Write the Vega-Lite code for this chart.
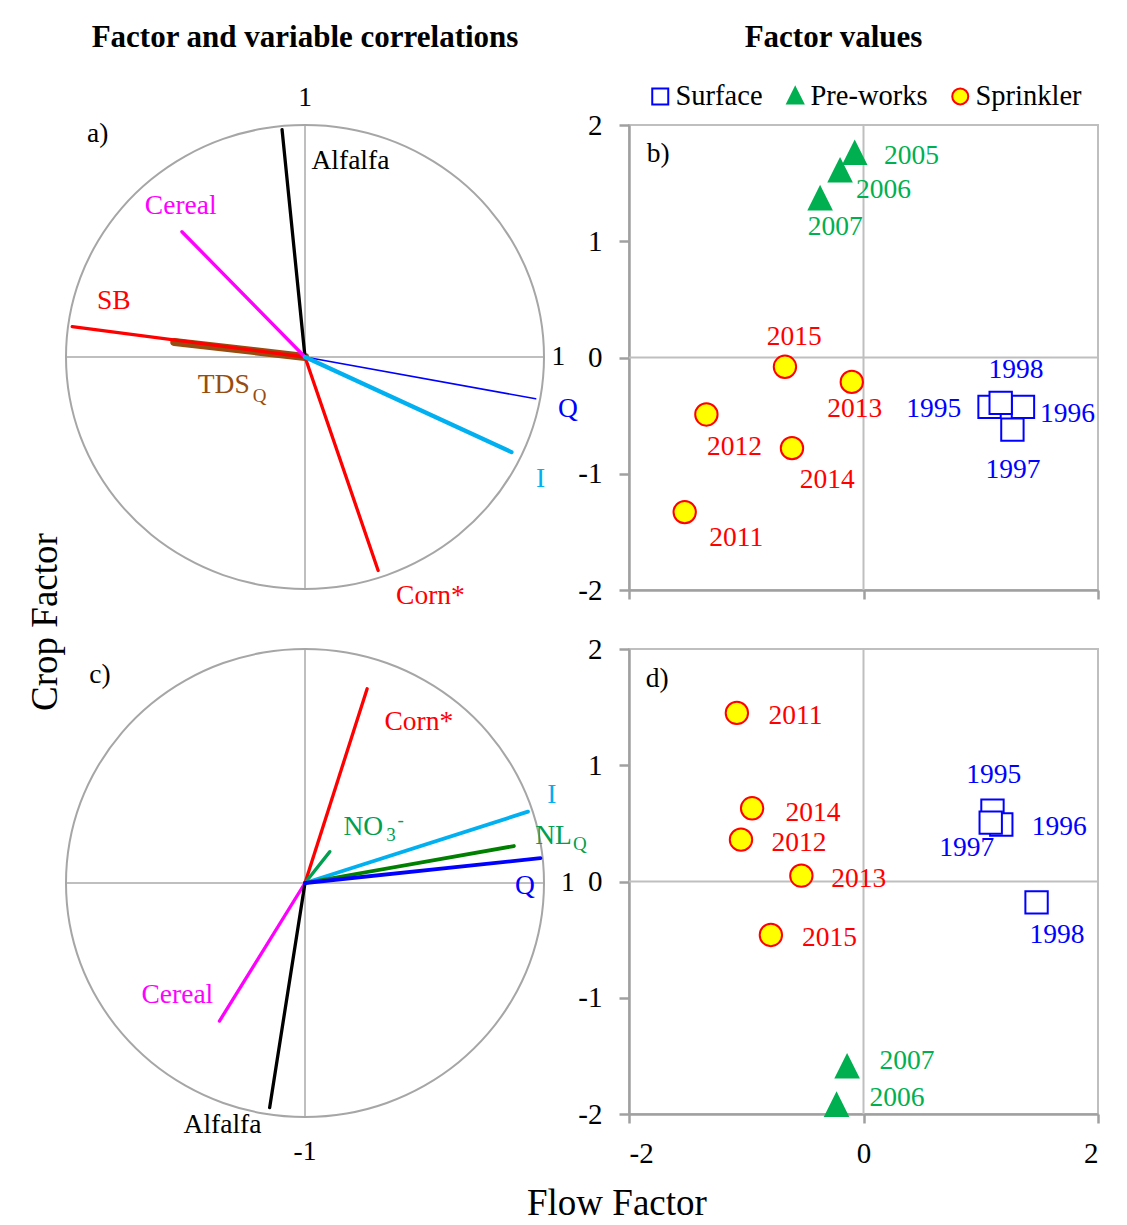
{
  "$schema": "https://vega.github.io/schema/vega-lite/v6.json",
  "background": "white",
  "padding": {"left": 26, "top": 21, "right": 10, "bottom": 0},
  "config": {
    "font": "Liberation Serif",
    "title": {"font": "Liberation Serif", "color": "black"},
    "axis": {"labelFont": "Liberation Serif", "labelFontSize": 29, "labelColor": "black", "domainColor": "#a0a0a0", "domainWidth": 2.5, "tickColor": "#a0a0a0", "tickWidth": 2.5, "grid": false, "title": null},
    "legend": {"labelFont": "Liberation Serif", "labelColor": "black"}
  },
  "title": {"text": "Crop Factor", "orient": "left", "anchor": "middle", "fontSize": 37, "fontWeight": "normal", "offset": -3},
  "datasets": {
    "circle": [
      {"i": 0, "x": 1.0, "y": 0.0}, {"i": 1, "x": 0.985, "y": 0.174}, {"i": 2, "x": 0.94, "y": 0.342}, {"i": 3, "x": 0.866, "y": 0.5},
      {"i": 4, "x": 0.766, "y": 0.643}, {"i": 5, "x": 0.643, "y": 0.766}, {"i": 6, "x": 0.5, "y": 0.866}, {"i": 7, "x": 0.342, "y": 0.94},
      {"i": 8, "x": 0.174, "y": 0.985}, {"i": 9, "x": 0.0, "y": 1.0}, {"i": 10, "x": -0.174, "y": 0.985}, {"i": 11, "x": -0.342, "y": 0.94},
      {"i": 12, "x": -0.5, "y": 0.866}, {"i": 13, "x": -0.643, "y": 0.766}, {"i": 14, "x": -0.766, "y": 0.643}, {"i": 15, "x": -0.866, "y": 0.5},
      {"i": 16, "x": -0.94, "y": 0.342}, {"i": 17, "x": -0.985, "y": 0.174}, {"i": 18, "x": -1.0, "y": 0.0}, {"i": 19, "x": -0.985, "y": -0.174},
      {"i": 20, "x": -0.94, "y": -0.342}, {"i": 21, "x": -0.866, "y": -0.5}, {"i": 22, "x": -0.766, "y": -0.643}, {"i": 23, "x": -0.643, "y": -0.766},
      {"i": 24, "x": -0.5, "y": -0.866}, {"i": 25, "x": -0.342, "y": -0.94}, {"i": 26, "x": -0.174, "y": -0.985}, {"i": 27, "x": 0.0, "y": -1.0},
      {"i": 28, "x": 0.174, "y": -0.985}, {"i": 29, "x": 0.342, "y": -0.94}, {"i": 30, "x": 0.5, "y": -0.866}, {"i": 31, "x": 0.643, "y": -0.766},
      {"i": 32, "x": 0.766, "y": -0.643}, {"i": 33, "x": 0.866, "y": -0.5}, {"i": 34, "x": 0.94, "y": -0.342}, {"i": 35, "x": 0.985, "y": -0.174}
    ],
    "cross": [{"x": -1, "y": 0, "x2": 1, "y2": 0}, {"x": 0, "y": -1, "x2": 0, "y2": 1}],
    "zero": [{"x": 0, "y": -2, "x2": 0, "y2": 2}, {"x": -2, "y": 0, "x2": 2, "y2": 0}],
    "vecA": [
      {"var": "TDSQ", "x": -0.547, "y": 0.065},
      {"var": "SB", "x": -0.974, "y": 0.131},
      {"var": "Alfalfa", "x": -0.096, "y": 0.98},
      {"var": "Cereal", "x": -0.515, "y": 0.54},
      {"var": "Q", "x": 0.965, "y": -0.18},
      {"var": "I", "x": 0.864, "y": -0.41},
      {"var": "Corn", "x": 0.306, "y": -0.92}
    ],
    "labA": [
      {"t": "Alfalfa", "var": "Alfalfa", "k": "main", "x": 0.19, "y": 0.846},
      {"t": "Cereal", "var": "Cereal", "k": "main", "x": -0.52, "y": 0.65},
      {"t": "SB", "var": "SB", "k": "main", "x": -0.8, "y": 0.24},
      {"t": "TDS", "var": "TDSQ", "k": "main", "x": -0.34, "y": -0.122},
      {"t": "Q", "var": "TDSQ", "k": "sub", "x": -0.19, "y": -0.168},
      {"t": "Q", "var": "Q", "k": "main", "x": 1.1, "y": -0.226},
      {"t": "I", "var": "I", "k": "main", "x": 0.986, "y": -0.528},
      {"t": "Corn*", "var": "Corn", "k": "main", "x": 0.525, "y": -1.03},
      {"t": "a)", "var": "axis", "k": "main", "x": -0.867, "y": 0.96},
      {"t": "1", "var": "axis", "k": "main", "x": 0, "y": 1.117},
      {"t": "1", "var": "axis", "k": "main", "x": 1.06, "y": 0}
    ],
    "vecC": [
      {"var": "Corn", "x": 0.26, "y": 0.83},
      {"var": "NO3", "x": 0.104, "y": 0.134},
      {"var": "I", "x": 0.933, "y": 0.305},
      {"var": "NLQ", "x": 0.874, "y": 0.158},
      {"var": "Q", "x": 0.985, "y": 0.106},
      {"var": "Cereal", "x": -0.358, "y": -0.59},
      {"var": "Alfalfa", "x": -0.148, "y": -0.96}
    ],
    "labC": [
      {"t": "c)", "var": "axis", "k": "main", "x": -0.858, "y": 0.888},
      {"t": "Corn*", "var": "Corn", "k": "main", "x": 0.476, "y": 0.69},
      {"t": "NO", "var": "NO3", "k": "main", "x": 0.244, "y": 0.24},
      {"t": "3", "var": "NO3", "k": "sub", "x": 0.36, "y": 0.205},
      {"t": "-", "var": "NO3", "k": "sup", "x": 0.4, "y": 0.27},
      {"t": "I", "var": "I", "k": "main", "x": 1.033, "y": 0.377},
      {"t": "NL", "var": "NLQlab", "k": "main", "x": 1.04, "y": 0.2},
      {"t": "Q", "var": "NLQlab", "k": "sub", "x": 1.15, "y": 0.165},
      {"t": "Q", "var": "Q", "k": "main", "x": 0.92, "y": -0.012},
      {"t": "Cereal", "var": "Cereal", "k": "main", "x": -0.534, "y": -0.478},
      {"t": "Alfalfa", "var": "Alfalfa", "k": "main", "x": -0.345, "y": -1.035},
      {"t": "-1", "var": "axis", "k": "main", "x": 0, "y": -1.15},
      {"t": "1", "var": "axis", "k": "main", "x": 1.1, "y": 0}
    ],
    "ptsB": [
      {"year": "1995", "group": "Surface", "x": 1.075, "y": -0.425},
      {"year": "1996", "group": "Surface", "x": 1.36, "y": -0.425},
      {"year": "1997", "group": "Surface", "x": 1.27, "y": -0.62},
      {"year": "1998", "group": "Surface", "x": 1.17, "y": -0.39},
      {"year": "2005", "group": "Pre-works", "x": -0.075, "y": 1.75},
      {"year": "2006", "group": "Pre-works", "x": -0.2, "y": 1.6},
      {"year": "2007", "group": "Pre-works", "x": -0.37, "y": 1.36},
      {"year": "2011", "group": "Sprinkler", "x": -1.525, "y": -1.33},
      {"year": "2012", "group": "Sprinkler", "x": -1.34, "y": -0.49},
      {"year": "2013", "group": "Sprinkler", "x": -0.1, "y": -0.21},
      {"year": "2014", "group": "Sprinkler", "x": -0.61, "y": -0.78},
      {"year": "2015", "group": "Sprinkler", "x": -0.67, "y": -0.08}
    ],
    "labB": [
      {"t": "1995", "group": "Surface", "x": 0.6, "y": -0.44},
      {"t": "1996", "group": "Surface", "x": 1.74, "y": -0.49},
      {"t": "1997", "group": "Surface", "x": 1.275, "y": -0.97},
      {"t": "1998", "group": "Surface", "x": 1.3, "y": -0.11},
      {"t": "2005", "group": "Pre-works", "x": 0.41, "y": 1.735},
      {"t": "2006", "group": "Pre-works", "x": 0.17, "y": 1.44},
      {"t": "2007", "group": "Pre-works", "x": -0.24, "y": 1.12},
      {"t": "2011", "group": "Sprinkler", "x": -1.085, "y": -1.55},
      {"t": "2012", "group": "Sprinkler", "x": -1.1, "y": -0.77},
      {"t": "2013", "group": "Sprinkler", "x": -0.075, "y": -0.44},
      {"t": "2014", "group": "Sprinkler", "x": -0.31, "y": -1.05},
      {"t": "2015", "group": "Sprinkler", "x": -0.59, "y": 0.175},
      {"t": "b)", "group": "label", "x": -1.75, "y": 1.75}
    ],
    "ptsD": [
      {"year": "1995", "group": "Surface", "x": 1.1, "y": 0.61},
      {"year": "1996", "group": "Surface", "x": 1.175, "y": 0.49},
      {"year": "1997", "group": "Surface", "x": 1.085, "y": 0.507},
      {"year": "1998", "group": "Surface", "x": 1.476, "y": -0.18},
      {"year": "2006", "group": "Pre-works", "x": -0.23, "y": -1.93},
      {"year": "2007", "group": "Pre-works", "x": -0.14, "y": -1.6},
      {"year": "2011", "group": "Sprinkler", "x": -1.08, "y": 1.45},
      {"year": "2012", "group": "Sprinkler", "x": -1.045, "y": 0.36},
      {"year": "2013", "group": "Sprinkler", "x": -0.53, "y": 0.05},
      {"year": "2014", "group": "Sprinkler", "x": -0.95, "y": 0.63},
      {"year": "2015", "group": "Sprinkler", "x": -0.79, "y": -0.46}
    ],
    "labD": [
      {"t": "1995", "group": "Surface", "x": 1.11, "y": 0.92},
      {"t": "1996", "group": "Surface", "x": 1.67, "y": 0.47},
      {"t": "1997", "group": "Surface", "x": 0.88, "y": 0.285},
      {"t": "1998", "group": "Surface", "x": 1.65, "y": -0.46},
      {"t": "2006", "group": "Pre-works", "x": 0.285, "y": -1.86},
      {"t": "2007", "group": "Pre-works", "x": 0.37, "y": -1.54},
      {"t": "2011", "group": "Sprinkler", "x": -0.58, "y": 1.42},
      {"t": "2012", "group": "Sprinkler", "x": -0.55, "y": 0.33},
      {"t": "2013", "group": "Sprinkler", "x": -0.04, "y": 0.02},
      {"t": "2014", "group": "Sprinkler", "x": -0.43, "y": 0.59},
      {"t": "2015", "group": "Sprinkler", "x": -0.29, "y": -0.49},
      {"t": "d)", "group": "label", "x": -1.76, "y": 1.74}
    ]
  },
  "columns": 2,
  "bounds": "flush",
  "spacing": {"row": 59, "column": 85},
  "resolve": {"scale": {"color": "independent", "shape": "independent", "stroke": "independent", "fill": "independent"}},
  "concat": [
    {
      "width": 478, "height": 464,
      "view": {"stroke": null},
      "title": {"text": "Factor and variable correlations", "fontSize": 31, "fontWeight": "bold", "anchor": "middle", "frame": "group", "offset": 30},
      "encoding": {
        "x": {"field": "x", "type": "quantitative", "scale": {"domain": [-1, 1], "nice": false, "zero": false}, "axis": null},
        "y": {"field": "y", "type": "quantitative", "scale": {"domain": [-1, 1], "nice": false, "zero": false}, "axis": null}
      },
      "layer": [
        {"data": {"name": "cross"}, "mark": {"type": "rule", "color": "#bfbfbf", "strokeWidth": 2}, "encoding": {"x2": {"field": "x2"}, "y2": {"field": "y2"}}},
        {"data": {"name": "circle"}, "mark": {"type": "line", "color": "#a6a6a6", "strokeWidth": 2, "interpolate": "cardinal-closed"}, "encoding": {"order": {"field": "i", "type": "quantitative"}}},
        {"data": {"name": "vecA"}, "transform": [{"filter": "datum.var == 'TDSQ'"}], "mark": {"type": "rule", "strokeCap": "round", "strokeWidth": 8},
         "encoding": {"x2": {"datum": 0}, "y2": {"datum": 0},
           "color": {"field": "var", "type": "nominal", "legend": null, "scale": {"domain": ["Alfalfa", "Cereal", "SB", "TDSQ", "Q", "I", "Corn", "axis"], "range": ["#000000", "#ff00ff", "#ff0000", "#984c0f", "#0000ff", "#00b0f0", "#ff0000", "#000000"]}}}},
        {"data": {"name": "vecA"}, "transform": [{"filter": "indexof(['SB','Alfalfa','Cereal','Corn'], datum.var) >= 0"}], "mark": {"type": "rule", "strokeCap": "round", "strokeWidth": 3.3},
         "encoding": {"x2": {"datum": 0}, "y2": {"datum": 0},
           "color": {"field": "var", "type": "nominal", "legend": null, "scale": {"domain": ["Alfalfa", "Cereal", "SB", "TDSQ", "Q", "I", "Corn", "axis"], "range": ["#000000", "#ff00ff", "#ff0000", "#984c0f", "#0000ff", "#00b0f0", "#ff0000", "#000000"]}}}},
        {"data": {"name": "vecA"}, "transform": [{"filter": "datum.var == 'Q'"}], "mark": {"type": "rule", "strokeCap": "round", "strokeWidth": 1.6},
         "encoding": {"x2": {"datum": 0}, "y2": {"datum": 0},
           "color": {"field": "var", "type": "nominal", "legend": null, "scale": {"domain": ["Alfalfa", "Cereal", "SB", "TDSQ", "Q", "I", "Corn", "axis"], "range": ["#000000", "#ff00ff", "#ff0000", "#984c0f", "#0000ff", "#00b0f0", "#ff0000", "#000000"]}}}},
        {"data": {"name": "vecA"}, "transform": [{"filter": "datum.var == 'I'"}], "mark": {"type": "rule", "strokeCap": "round", "strokeWidth": 4.2},
         "encoding": {"x2": {"datum": 0}, "y2": {"datum": 0},
           "color": {"field": "var", "type": "nominal", "legend": null, "scale": {"domain": ["Alfalfa", "Cereal", "SB", "TDSQ", "Q", "I", "Corn", "axis"], "range": ["#000000", "#ff00ff", "#ff0000", "#984c0f", "#0000ff", "#00b0f0", "#ff0000", "#000000"]}}}},
        {"data": {"name": "labA"}, "transform": [{"filter": "datum.k == 'main'"}], "mark": {"type": "text", "font": "Liberation Serif", "fontSize": 27.5, "align": "center", "baseline": "middle"},
         "encoding": {"text": {"field": "t"}, "color": {"field": "var", "type": "nominal", "legend": null, "scale": {"domain": ["Alfalfa", "Cereal", "SB", "TDSQ", "Q", "I", "Corn", "axis"], "range": ["#000000", "#ff00ff", "#ff0000", "#984c0f", "#0000ff", "#00b0f0", "#ff0000", "#000000"]}}}},
        {"data": {"name": "labA"}, "transform": [{"filter": "datum.k != 'main'"}], "mark": {"type": "text", "font": "Liberation Serif", "fontSize": 19, "align": "center", "baseline": "middle"},
         "encoding": {"text": {"field": "t"}, "color": {"field": "var", "type": "nominal", "legend": null, "scale": {"domain": ["Alfalfa", "Cereal", "SB", "TDSQ", "Q", "I", "Corn", "axis"], "range": ["#000000", "#ff00ff", "#ff0000", "#984c0f", "#0000ff", "#00b0f0", "#ff0000", "#000000"]}}}}
      ]
    },
    {
      "width": 469, "height": 465,
      "view": {"stroke": "#bfbfbf", "strokeWidth": 2},
      "title": {"text": "Factor values", "fontSize": 31, "fontWeight": "bold", "anchor": "middle", "frame": "group", "offset": 28, "dx": -30},
      "encoding": {
        "x": {"field": "x", "type": "quantitative", "scale": {"domain": [-2, 2], "nice": false, "zero": false}, "axis": {"values": [-2, 0, 2], "labels": false, "tickSize": 9}},
        "y": {"field": "y", "type": "quantitative", "scale": {"domain": [-2, 2], "nice": false, "zero": false}, "axis": {"values": [-2, -1, 0, 1, 2], "tickSize": 10, "labelPadding": 17, "labelExpr": "datum.value < 0 ? '-' + (-datum.value) : '' + datum.value"}}
      },
      "layer": [
        {"data": {"name": "zero"}, "mark": {"type": "rule", "color": "#bfbfbf", "strokeWidth": 2}, "encoding": {"x2": {"field": "x2"}, "y2": {"field": "y2"}}},
        {"data": {"name": "ptsB"}, "mark": {"type": "point", "filled": true, "size": 500, "strokeWidth": 2, "opacity": 1},
         "encoding": {
           "shape": {"field": "group", "type": "nominal", "scale": {"domain": ["Surface", "Pre-works", "Sprinkler"], "range": ["square", "M0,-1.1L1,0.9L-1,0.9Z", "circle"]},
             "legend": {"orient": "none", "legendX": 17, "legendY": -43, "direction": "horizontal", "title": null, "labelFontSize": 28.5, "symbolSize": 256, "symbolStrokeWidth": 2, "labelOffset": 1, "columnPadding": 18}},
           "stroke": {"field": "group", "type": "nominal", "scale": {"domain": ["Surface", "Pre-works", "Sprinkler"], "range": ["#0000ff", "#00b050", "#ff0000"]},
             "legend": {"orient": "none", "legendX": 17, "legendY": -43, "direction": "horizontal", "title": null, "labelFontSize": 28.5, "symbolSize": 256, "symbolStrokeWidth": 2, "labelOffset": 1, "columnPadding": 18}},
           "fill": {"field": "group", "type": "nominal", "scale": {"domain": ["Surface", "Pre-works", "Sprinkler"], "range": ["#ffffff", "#00b050", "#ffff00"]},
             "legend": {"orient": "none", "legendX": 17, "legendY": -43, "direction": "horizontal", "title": null, "labelFontSize": 28.5, "symbolSize": 256, "symbolStrokeWidth": 2, "labelOffset": 1, "columnPadding": 18}}
         }},
        {"data": {"name": "labB"}, "mark": {"type": "text", "font": "Liberation Serif", "fontSize": 27.5, "align": "center", "baseline": "middle"},
         "encoding": {"text": {"field": "t"}, "color": {"field": "group", "type": "nominal", "legend": null, "scale": {"domain": ["Surface", "Pre-works", "Sprinkler", "label"], "range": ["#0000ff", "#00b050", "#ff0000", "#000000"]}}}}
      ]
    },
    {
      "width": 478, "height": 468,
      "view": {"stroke": null},
      "encoding": {
        "x": {"field": "x", "type": "quantitative", "scale": {"domain": [-1, 1], "nice": false, "zero": false}, "axis": null},
        "y": {"field": "y", "type": "quantitative", "scale": {"domain": [-1, 1], "nice": false, "zero": false}, "axis": null}
      },
      "layer": [
        {"data": {"name": "cross"}, "mark": {"type": "rule", "color": "#bfbfbf", "strokeWidth": 2}, "encoding": {"x2": {"field": "x2"}, "y2": {"field": "y2"}}},
        {"data": {"name": "circle"}, "mark": {"type": "line", "color": "#a6a6a6", "strokeWidth": 2, "interpolate": "cardinal-closed"}, "encoding": {"order": {"field": "i", "type": "quantitative"}}},
        {"data": {"name": "vecC"}, "transform": [{"filter": "indexof(['Corn','NO3','Cereal','Alfalfa'], datum.var) >= 0"}], "mark": {"type": "rule", "strokeCap": "round", "strokeWidth": 3.3},
         "encoding": {"x2": {"datum": 0}, "y2": {"datum": 0},
           "color": {"field": "var", "type": "nominal", "legend": null, "scale": {"domain": ["Alfalfa", "Cereal", "Corn", "NO3", "NLQ", "NLQlab", "I", "Q", "axis"], "range": ["#000000", "#ff00ff", "#ff0000", "#00a050", "#008000", "#00a050", "#00b0f0", "#0000ff", "#000000"]}}}},
        {"data": {"name": "vecC"}, "transform": [{"filter": "indexof(['I','NLQ','Q'], datum.var) >= 0"}], "mark": {"type": "rule", "strokeCap": "round", "strokeWidth": 3.8},
         "encoding": {"x2": {"datum": 0}, "y2": {"datum": 0},
           "color": {"field": "var", "type": "nominal", "legend": null, "scale": {"domain": ["Alfalfa", "Cereal", "Corn", "NO3", "NLQ", "NLQlab", "I", "Q", "axis"], "range": ["#000000", "#ff00ff", "#ff0000", "#00a050", "#008000", "#00a050", "#00b0f0", "#0000ff", "#000000"]}}}},
        {"data": {"name": "labC"}, "transform": [{"filter": "datum.k == 'main'"}], "mark": {"type": "text", "font": "Liberation Serif", "fontSize": 27.5, "align": "center", "baseline": "middle"},
         "encoding": {"text": {"field": "t"}, "color": {"field": "var", "type": "nominal", "legend": null, "scale": {"domain": ["Alfalfa", "Cereal", "Corn", "NO3", "NLQ", "NLQlab", "I", "Q", "axis"], "range": ["#000000", "#ff00ff", "#ff0000", "#00a050", "#008000", "#00a050", "#00b0f0", "#0000ff", "#000000"]}}}},
        {"data": {"name": "labC"}, "transform": [{"filter": "datum.k != 'main'"}], "mark": {"type": "text", "font": "Liberation Serif", "fontSize": 19, "align": "center", "baseline": "middle"},
         "encoding": {"text": {"field": "t"}, "color": {"field": "var", "type": "nominal", "legend": null, "scale": {"domain": ["Alfalfa", "Cereal", "Corn", "NO3", "NLQ", "NLQlab", "I", "Q", "axis"], "range": ["#000000", "#ff00ff", "#ff0000", "#00a050", "#008000", "#00a050", "#00b0f0", "#0000ff", "#000000"]}}}}
      ]
    },
    {
      "width": 469, "height": 465,
      "view": {"stroke": "#bfbfbf", "strokeWidth": 2},
      "title": {"text": "Flow Factor", "orient": "bottom", "anchor": "start", "frame": "group", "dx": -102, "offset": 18, "fontSize": 37, "fontWeight": "normal"},
      "encoding": {
        "x": {"field": "x", "type": "quantitative", "scale": {"domain": [-2, 2], "nice": false, "zero": false}, "axis": {"values": [-2, 0, 2], "tickSize": 9, "labelPadding": 16, "labelExpr": "datum.value < 0 ? '-' + (-datum.value) : '' + datum.value"}},
        "y": {"field": "y", "type": "quantitative", "scale": {"domain": [-2, 2], "nice": false, "zero": false}, "axis": {"values": [-2, -1, 0, 1, 2], "tickSize": 10, "labelPadding": 17, "labelExpr": "datum.value < 0 ? '-' + (-datum.value) : '' + datum.value"}}
      },
      "layer": [
        {"data": {"name": "zero"}, "mark": {"type": "rule", "color": "#bfbfbf", "strokeWidth": 2}, "encoding": {"x2": {"field": "x2"}, "y2": {"field": "y2"}}},
        {"data": {"name": "ptsD"}, "mark": {"type": "point", "filled": true, "size": 500, "strokeWidth": 2, "opacity": 1},
         "encoding": {
           "shape": {"field": "group", "type": "nominal", "legend": null, "scale": {"domain": ["Surface", "Pre-works", "Sprinkler"], "range": ["square", "M0,-1.1L1,0.9L-1,0.9Z", "circle"]}},
           "stroke": {"field": "group", "type": "nominal", "legend": null, "scale": {"domain": ["Surface", "Pre-works", "Sprinkler"], "range": ["#0000ff", "#00b050", "#ff0000"]}},
           "fill": {"field": "group", "type": "nominal", "legend": null, "scale": {"domain": ["Surface", "Pre-works", "Sprinkler"], "range": ["#ffffff", "#00b050", "#ffff00"]}}
         }},
        {"data": {"name": "labD"}, "mark": {"type": "text", "font": "Liberation Serif", "fontSize": 27.5, "align": "center", "baseline": "middle"},
         "encoding": {"text": {"field": "t"}, "color": {"field": "group", "type": "nominal", "legend": null, "scale": {"domain": ["Surface", "Pre-works", "Sprinkler", "label"], "range": ["#0000ff", "#00b050", "#ff0000", "#000000"]}}}}
      ]
    }
  ]
}
